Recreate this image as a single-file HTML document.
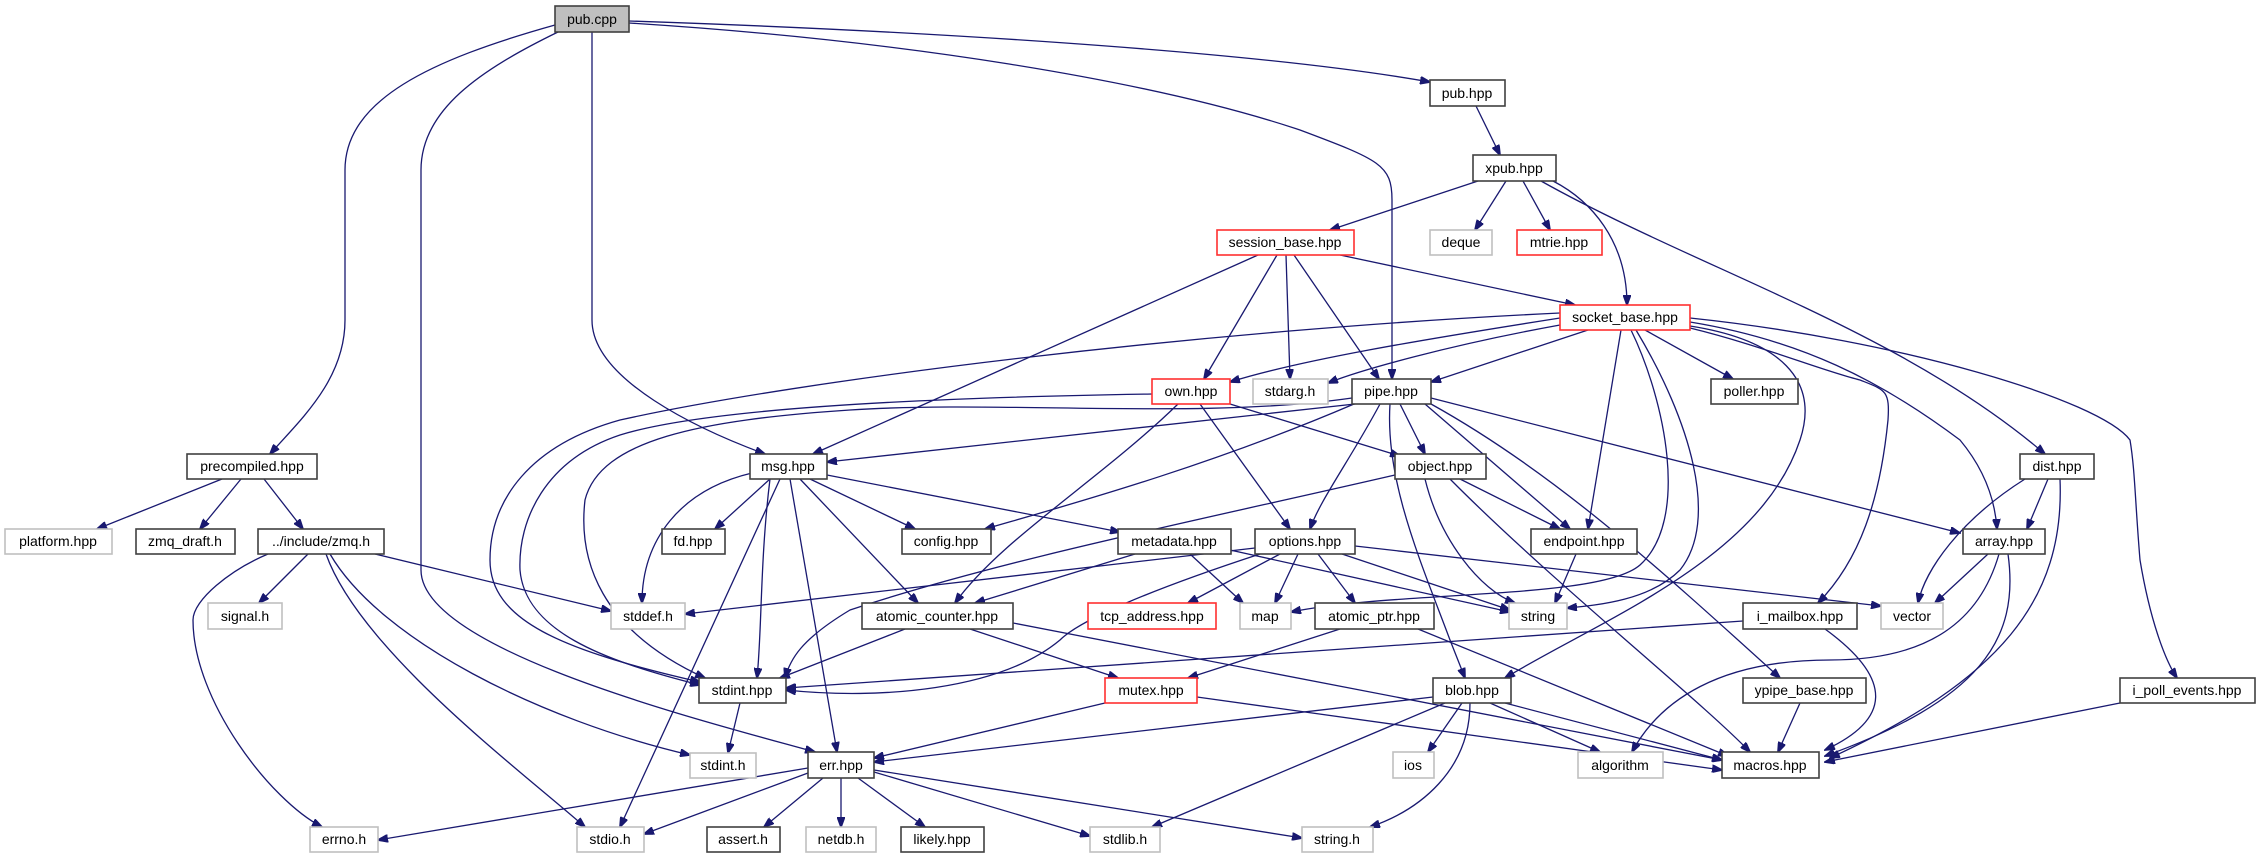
<!DOCTYPE html>
<html><head><meta charset="utf-8"><style>
html,body{margin:0;padding:0;background:#fff;}
svg{display:block}
text{font-family:"Liberation Sans","DejaVu Sans",sans-serif;font-size:14px;fill:#000;text-anchor:middle}
.b{fill:#fff;stroke:#404040;stroke-width:1.6}
.g{fill:#fff;stroke:#bfbfbf;stroke-width:1.6}
.r{fill:#fff;stroke:#ff3030;stroke-width:1.6}
.e path{fill:none;stroke:#191970;stroke-width:1.3;marker-end:url(#a)}
</style></head><body>
<svg width="2264" height="859" viewBox="0 0 2264 859" xmlns="http://www.w3.org/2000/svg">
<defs><marker id="a" markerUnits="userSpaceOnUse" markerWidth="11" markerHeight="8" refX="10" refY="4" orient="auto"><path d="M0,0 L11,4 L0,8 z" fill="#191970" stroke="#191970"/></marker></defs>
<g class="e">
<path d="M555,25 C430,60 345,100 345,170 L345,320 C345,380 300,420 270,454"/>
<path d="M558,32 C480,70 421,110 421,170 L421,570 C421,650 700,720 815,752"/>
<path d="M592,32 L592,320 C592,380 700,430 765,454"/>
<path d="M629,21 C900,30 1250,50 1430,82"/>
<path d="M629,23 C900,40 1150,80 1300,130 C1380,160 1392,165 1392,200 L1392,379"/>
<path d="M222,479 L97,529"/>
<path d="M241,479 L200,529"/>
<path d="M264,479 L303,529"/>
<path d="M308,554 L259,603"/>
<path d="M375,554 L611,611"/>
<path d="M268,554 C230,570 193,600 193,620 C193,700 270,800 322,827"/>
<path d="M326,554 C360,650 520,770 585,827"/>
<path d="M330,554 C380,640 540,720 690,755"/>
<path d="M1476,106 L1500,155"/>
<path d="M1478,181 L1330,230"/>
<path d="M1506,181 L1475,230"/>
<path d="M1523,181 L1550,230"/>
<path d="M1553,181 C1590,200 1627,240 1627,305"/>
<path d="M1541,181 C1700,270 1900,330 2045,454"/>
<path d="M1258,255 L813,454"/>
<path d="M1277,255 L1204,379"/>
<path d="M1286,255 L1290,379"/>
<path d="M1294,255 L1379,379"/>
<path d="M1340,255 L1575,305"/>
<path d="M1560,318 C1420,340 1300,360 1230,382"/>
<path d="M1560,325 C1450,345 1360,370 1328,383"/>
<path d="M1588,330 L1431,382"/>
<path d="M1560,313 C1200,330 800,380 620,420 C530,445 490,500 490,560 C490,620 560,650 700,682"/>
<path d="M1152,394 C900,398 700,410 620,435 C545,460 518,520 520,570 C525,630 600,660 700,685"/>
<path d="M1352,398 C1200,420 1000,400 850,410 C700,420 600,440 585,500 C578,560 600,630 705,678"/>
<path d="M1355,404 L827,462"/>
<path d="M1621,330 L1588,529"/>
<path d="M1645,330 L1733,379"/>
<path d="M1631,330 C1665,400 1690,520 1640,565 C1600,600 1400,590 1291,612"/>
<path d="M1636,330 C1690,420 1720,520 1680,570 C1650,600 1600,605 1567,608"/>
<path d="M1690,326 C1780,340 1820,380 1800,440 C1760,560 1600,620 1505,678"/>
<path d="M1690,328 C1760,345 1820,370 1860,380 C1885,390 1890,390 1888,420 C1880,500 1860,560 1818,603"/>
<path d="M1690,322 C1800,340 1880,380 1960,440 C1985,470 1995,500 1997,529"/>
<path d="M1690,318 C1900,340 2100,400 2130,440 C2135,470 2135,500 2140,560 C2150,620 2165,660 2177,678"/>
<path d="M1230,404 L1400,456"/>
<path d="M1200,404 L1290,529"/>
<path d="M1178,404 C1100,480 1000,540 955,603"/>
<path d="M1400,404 L1425,454"/>
<path d="M1380,404 C1350,460 1320,500 1310,529"/>
<path d="M1354,404 C1200,470 1050,510 985,529"/>
<path d="M1425,404 L1570,529"/>
<path d="M1431,404 C1550,470 1650,560 1780,678"/>
<path d="M1431,398 L1960,533"/>
<path d="M1390,404 C1385,480 1420,560 1450,640 L1465,678"/>
<path d="M752,473 C680,490 642,540 642,603"/>
<path d="M770,479 L715,529"/>
<path d="M810,479 L915,529"/>
<path d="M827,475 L1120,532"/>
<path d="M800,479 L918,603"/>
<path d="M790,479 L837,752"/>
<path d="M780,479 L620,827"/>
<path d="M770,479 C760,560 762,630 757,678"/>
<path d="M1395,475 C1200,520 1000,560 850,610 C800,640 790,660 785,678"/>
<path d="M1460,479 L1560,529"/>
<path d="M1425,479 C1440,540 1480,590 1515,603"/>
<path d="M1450,479 C1550,580 1700,700 1750,752"/>
<path d="M1135,554 L975,603"/>
<path d="M1190,554 L1243,603"/>
<path d="M1230,550 L1510,612"/>
<path d="M1255,548 L685,614"/>
<path d="M1280,554 L1188,603"/>
<path d="M1298,554 L1275,603"/>
<path d="M1318,554 L1355,603"/>
<path d="M1342,554 L1510,610"/>
<path d="M1260,554 C1150,590 1080,620 1060,640 C1000,690 880,700 786,690"/>
<path d="M1355,546 L1881,606"/>
<path d="M905,629 L780,678"/>
<path d="M970,629 L1118,678"/>
<path d="M1013,623 L1722,760"/>
<path d="M1340,629 L1188,678"/>
<path d="M1418,629 L1728,756"/>
<path d="M1743,621 L786,688"/>
<path d="M1825,629 C1895,680 1890,720 1825,750"/>
<path d="M740,703 L728,753"/>
<path d="M1105,703 L874,758"/>
<path d="M1197,697 L1722,770"/>
<path d="M1433,697 L874,762"/>
<path d="M1462,703 L1428,752"/>
<path d="M1490,703 L1600,752"/>
<path d="M1445,703 L1152,827"/>
<path d="M1470,703 C1470,770 1420,810 1370,827"/>
<path d="M1505,703 L1722,760"/>
<path d="M808,768 L378,840"/>
<path d="M808,773 L644,834"/>
<path d="M823,778 L764,827"/>
<path d="M841,778 L841,827"/>
<path d="M858,778 L925,827"/>
<path d="M874,772 L1090,836"/>
<path d="M874,770 L1302,838"/>
<path d="M2048,479 L2027,529"/>
<path d="M2025,479 C1960,520 1925,570 1918,603"/>
<path d="M2060,479 C2065,600 2000,680 1830,758"/>
<path d="M1988,554 L1935,603"/>
<path d="M1999,554 C1980,620 1930,660 1830,660 C1720,660 1660,700 1632,752"/>
<path d="M2008,554 C2020,640 1980,700 1825,756"/>
<path d="M1800,703 L1778,752"/>
<path d="M2120,703 L1825,762"/>
<path d="M1576,554 L1555,603"/>
</g>
<g>
<rect x="555" y="6" width="74" height="26" fill="#bfbfbf" stroke="#404040" stroke-width="1.6"/><text x="592" y="24">pub.cpp</text>
<rect class="b" x="187" y="454" width="130" height="25"/><text x="252" y="471">precompiled.hpp</text>
<rect class="g" x="5" y="529" width="107" height="25"/><text x="58" y="546">platform.hpp</text>
<rect class="b" x="136" y="529" width="99" height="25"/><text x="185" y="546">zmq_draft.h</text>
<rect class="b" x="258" y="529" width="126" height="25"/><text x="321" y="546">../include/zmq.h</text>
<rect class="g" x="208" y="603" width="74" height="26"/><text x="245" y="621">signal.h</text>
<rect class="g" x="611" y="603" width="74" height="26"/><text x="648" y="621">stddef.h</text>
<rect class="b" x="662" y="529" width="63" height="25"/><text x="693" y="546">fd.hpp</text>
<rect class="b" x="699" y="678" width="87" height="25"/><text x="742" y="695">stdint.hpp</text>
<rect class="g" x="690" y="753" width="66" height="25"/><text x="723" y="770">stdint.h</text>
<rect class="g" x="310" y="827" width="68" height="25"/><text x="344" y="844">errno.h</text>
<rect class="g" x="577" y="827" width="67" height="25"/><text x="610" y="844">stdio.h</text>
<rect class="b" x="707" y="827" width="73" height="25"/><text x="743" y="844">assert.h</text>
<rect class="b" x="750" y="454" width="77" height="25"/><text x="788" y="471">msg.hpp</text>
<rect class="b" x="902" y="529" width="89" height="25"/><text x="946" y="546">config.hpp</text>
<rect class="b" x="1118" y="529" width="113" height="25"/><text x="1174" y="546">metadata.hpp</text>
<rect class="b" x="1255" y="529" width="100" height="25"/><text x="1305" y="546">options.hpp</text>
<rect class="b" x="1395" y="454" width="91" height="25"/><text x="1440" y="471">object.hpp</text>
<rect class="b" x="862" y="603" width="151" height="26"/><text x="937" y="621">atomic_counter.hpp</text>
<rect class="r" x="1088" y="603" width="128" height="26"/><text x="1152" y="621">tcp_address.hpp</text>
<rect class="g" x="1240" y="603" width="51" height="26"/><text x="1265" y="621">map</text>
<rect class="b" x="1315" y="603" width="119" height="26"/><text x="1374" y="621">atomic_ptr.hpp</text>
<rect class="r" x="1105" y="678" width="92" height="25"/><text x="1151" y="695">mutex.hpp</text>
<rect class="b" x="1433" y="678" width="78" height="25"/><text x="1472" y="695">blob.hpp</text>
<rect class="b" x="808" y="752" width="66" height="26"/><text x="841" y="770">err.hpp</text>
<rect class="g" x="1393" y="752" width="41" height="26"/><text x="1413" y="770">ios</text>
<rect class="g" x="806" y="827" width="70" height="25"/><text x="841" y="844">netdb.h</text>
<rect class="b" x="901" y="827" width="83" height="25"/><text x="942" y="844">likely.hpp</text>
<rect class="g" x="1090" y="827" width="70" height="25"/><text x="1125" y="844">stdlib.h</text>
<rect class="g" x="1302" y="827" width="71" height="25"/><text x="1337" y="844">string.h</text>
<rect class="b" x="1430" y="80" width="75" height="26"/><text x="1467" y="98">pub.hpp</text>
<rect class="b" x="1473" y="155" width="83" height="26"/><text x="1514" y="173">xpub.hpp</text>
<rect class="r" x="1217" y="230" width="137" height="25"/><text x="1285" y="247">session_base.hpp</text>
<rect class="g" x="1430" y="230" width="62" height="25"/><text x="1461" y="247">deque</text>
<rect class="r" x="1517" y="230" width="85" height="25"/><text x="1559" y="247">mtrie.hpp</text>
<rect class="r" x="1560" y="305" width="130" height="25"/><text x="1625" y="322">socket_base.hpp</text>
<rect class="r" x="1152" y="379" width="78" height="25"/><text x="1191" y="396">own.hpp</text>
<rect class="g" x="1253" y="379" width="75" height="25"/><text x="1290" y="396">stdarg.h</text>
<rect class="b" x="1352" y="379" width="79" height="25"/><text x="1391" y="396">pipe.hpp</text>
<rect class="b" x="1711" y="379" width="87" height="25"/><text x="1754" y="396">poller.hpp</text>
<rect class="b" x="2020" y="454" width="74" height="25"/><text x="2057" y="471">dist.hpp</text>
<rect class="b" x="1531" y="529" width="106" height="25"/><text x="1584" y="546">endpoint.hpp</text>
<rect class="b" x="1963" y="529" width="82" height="25"/><text x="2004" y="546">array.hpp</text>
<rect class="g" x="1509" y="603" width="58" height="26"/><text x="1538" y="621">string</text>
<rect class="b" x="1743" y="603" width="114" height="26"/><text x="1800" y="621">i_mailbox.hpp</text>
<rect class="g" x="1881" y="603" width="62" height="26"/><text x="1912" y="621">vector</text>
<rect class="b" x="1743" y="678" width="123" height="25"/><text x="1804" y="695">ypipe_base.hpp</text>
<rect class="b" x="2120" y="678" width="135" height="25"/><text x="2187" y="695">i_poll_events.hpp</text>
<rect class="g" x="1578" y="752" width="85" height="26"/><text x="1620" y="770">algorithm</text>
<rect class="b" x="1722" y="752" width="97" height="26"/><text x="1770" y="770">macros.hpp</text>
</g>
</svg>
</body></html>
